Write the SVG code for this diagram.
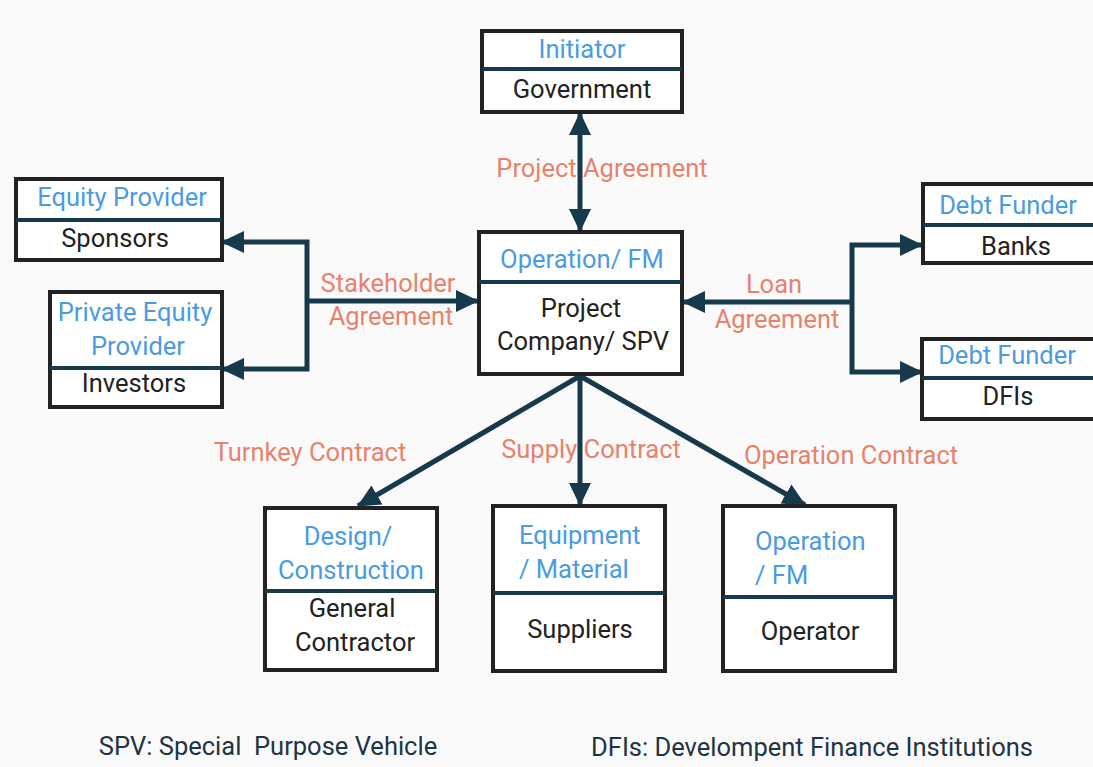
<svg xmlns="http://www.w3.org/2000/svg" width="1093" height="767" viewBox="0 0 1093 767">
<defs>
<marker id="ah" markerUnits="userSpaceOnUse" markerWidth="24" markerHeight="24" viewBox="0 0 24 24" refX="22" refY="12" orient="auto-start-reverse">
<path d="M0,1 L23,12 L0,23 Z" fill="#163a4b"/>
</marker>
<style>
.box{fill:#fff;stroke:#222;stroke-width:4}
.div{stroke:#163a4b;stroke-width:4}
.hd{font-family:Roboto,"Liberation Sans",sans-serif;font-size:25.5px;fill:#4a9be2}
.bd{font-family:Roboto,"Liberation Sans",sans-serif;font-size:25.5px;fill:#222}
.lb{font-family:Roboto,"Liberation Sans",sans-serif;font-size:25.5px;fill:#e8826c}
.ft{font-family:Roboto,"Liberation Sans",sans-serif;font-size:25.5px;fill:#1f3444}
.c{text-anchor:middle}
.cn{fill:none;stroke:#163a4b;stroke-width:5}
</style>
</defs>
<rect x="0" y="0" width="1093" height="767" fill="#fafafa"/>

<g id="connectors">
<line class="cn" x1="580" y1="113" x2="580" y2="231" marker-start="url(#ah)" marker-end="url(#ah)"/>
<polyline class="cn" points="222,242 307,242 307,369 222,369" marker-start="url(#ah)" marker-end="url(#ah)"/>
<line class="cn" x1="307" y1="301" x2="478" y2="301" marker-end="url(#ah)"/>
<polyline class="cn" points="922,245 852,245 852,372 922,372" marker-start="url(#ah)" marker-end="url(#ah)"/>
<line class="cn" x1="852" y1="302" x2="683" y2="302" marker-end="url(#ah)"/>
<line class="cn" x1="580" y1="376" x2="358" y2="506" marker-end="url(#ah)"/>
<line class="cn" x1="580" y1="376" x2="580" y2="505" marker-end="url(#ah)"/>
<line class="cn" x1="580" y1="376" x2="805" y2="505" marker-end="url(#ah)"/>
</g>

<g id="labels">
<text class="lb c" x="602" y="177">Project Agreement</text>
<text class="lb c" x="388" y="292">Stakeholder</text>
<text class="lb c" x="391" y="325">Agreement</text>
<text class="lb c" x="774" y="293">Loan</text>
<text class="lb c" x="777" y="328">Agreement</text>
<text class="lb c" x="310" y="461">Turnkey Contract</text>
<text class="lb c" x="591" y="458">Supply Contract</text>
<text class="lb c" x="851" y="464">Operation Contract</text>
</g>

<g id="initiator">
<rect class="box" x="482" y="31" width="200" height="81"/>
<line class="div" x1="482" y1="69" x2="682" y2="69"/>
<text class="hd c" x="582" y="58">Initiator</text>
<text class="bd c" x="582" y="98">Government</text>
</g>

<g id="spv">
<rect class="box" x="479" y="232" width="203" height="142"/>
<line class="div" x1="479" y1="282" x2="682" y2="282"/>
<text class="hd c" x="582" y="268">Operation/ FM</text>
<text class="bd c" x="581" y="317">Project</text>
<text class="bd c" x="583" y="350">Company/ SPV</text>
</g>

<g id="equity">
<rect class="box" x="16" y="179" width="206" height="81"/>
<line class="div" x1="16" y1="220" x2="222" y2="220"/>
<text class="hd c" x="122" y="206">Equity Provider</text>
<text class="bd c" x="115" y="247">Sponsors</text>
</g>

<g id="private-equity">
<rect class="box" x="50" y="292" width="172" height="115"/>
<line class="div" x1="50" y1="368" x2="222" y2="368"/>
<text class="hd c" x="135" y="321">Private Equity</text>
<text class="hd c" x="138" y="355">Provider</text>
<text class="bd c" x="134" y="392">Investors</text>
</g>

<g id="banks">
<rect class="box" x="923" y="184" width="172" height="79"/>
<line class="div" x1="923" y1="225" x2="1093" y2="225"/>
<text class="hd c" x="1008" y="214">Debt Funder</text>
<text class="bd c" x="1016" y="255">Banks</text>
</g>

<g id="dfis">
<rect class="box" x="922" y="339" width="173" height="80"/>
<line class="div" x1="922" y1="378" x2="1093" y2="378"/>
<text class="hd c" x="1007" y="364">Debt Funder</text>
<text class="bd c" x="1008" y="405">DFIs</text>
</g>

<g id="design">
<rect class="box" x="265" y="508" width="172" height="162"/>
<line class="div" x1="265" y1="591" x2="437" y2="591"/>
<text class="hd c" x="348" y="545">Design/</text>
<text class="hd c" x="351" y="579">Construction</text>
<text class="bd c" x="352" y="617">General</text>
<text class="bd c" x="355" y="651">Contractor</text>
</g>

<g id="equipment">
<rect class="box" x="493" y="506" width="172" height="165"/>
<line class="div" x1="493" y1="593" x2="665" y2="593"/>
<text class="hd" x="519" y="544">Equipment</text>
<text class="hd" x="519" y="578">/ Material</text>
<text class="bd c" x="580" y="638">Suppliers</text>
</g>

<g id="operator">
<rect class="box" x="723" y="506" width="172" height="165"/>
<line class="div" x1="723" y1="597" x2="895" y2="597"/>
<text class="hd" x="755" y="550">Operation</text>
<text class="hd" x="755" y="584">/ FM</text>
<text class="bd c" x="810" y="640">Operator</text>
</g>

<g id="footer">
<text class="ft c" x="268" y="755" xml:space="preserve">SPV: Special  Purpose Vehicle</text>
<text class="ft c" x="812" y="756">DFIs: Develompent Finance Institutions</text>
</g>
</svg>
